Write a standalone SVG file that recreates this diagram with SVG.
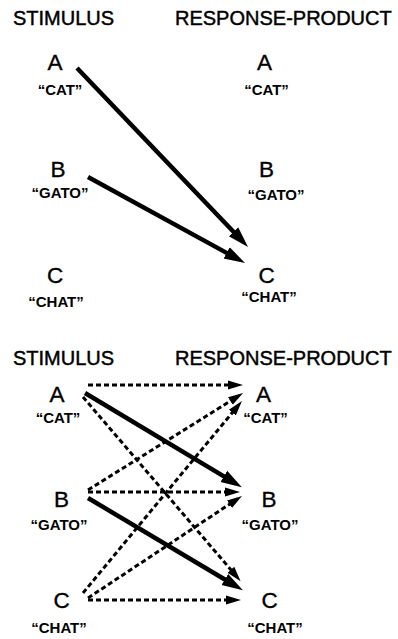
<svg xmlns="http://www.w3.org/2000/svg" width="398" height="639" viewBox="0 0 398 639">
  <style>
    text { font-family: "Liberation Sans", Arial, Helvetica, sans-serif; fill: #000; }
    .head { font-size: 20px; stroke: #000; stroke-width: 0.45; }
    .letter { font-size: 22.5px; text-anchor: middle; stroke: #000; stroke-width: 0.35; }
    .word { font-size: 15px; font-weight: bold; text-anchor: middle; }
    .solid { stroke: #000; stroke-width: 4.5; fill: none; }
    .dotted { stroke: #000; stroke-width: 3; stroke-dasharray: 5 3; fill: none; }
  </style>
  <defs>
    <marker id="headBig" markerUnits="userSpaceOnUse" markerWidth="24" markerHeight="16" refX="1" refY="8" orient="auto">
      <path d="M0,1.5 L21,8 L0,14.5 z" fill="#000"/>
    </marker>
    <marker id="headSmall" markerUnits="userSpaceOnUse" markerWidth="18" markerHeight="12" refX="1" refY="6" orient="auto">
      <path d="M0,1.5 L15,6 L0,10.5 z" fill="#000"/>
    </marker>
  </defs>

  <!-- upper panel -->
  <g id="top-headers">
    <text class="head" x="13" y="25">STIMULUS</text>
    <text class="head" x="175" y="25">RESPONSE-PRODUCT</text>
  </g>
  <g id="top-stim-a"><text class="letter" x="55" y="70">A</text><text class="word" x="60" y="95">“CAT”</text></g>
  <g id="top-stim-b"><text class="letter" x="58" y="177">B</text><text class="word" x="60" y="198">“GATO”</text></g>
  <g id="top-stim-c"><text class="letter" x="55" y="283">C</text><text class="word" x="56" y="307">“CHAT”</text></g>
  <g id="top-resp-a"><text class="letter" x="264.5" y="70">A</text><text class="word" x="266.5" y="95">“CAT”</text></g>
  <g id="top-resp-b"><text class="letter" x="266.5" y="177">B</text><text class="word" x="276" y="200">“GATO”</text></g>
  <g id="top-resp-c"><text class="letter" x="266.5" y="283">C</text><text class="word" x="269" y="302">“CHAT”</text></g>

  <g id="top-connectors">
    <line class="solid" x1="77" y1="68" x2="234.2" y2="232.5" marker-end="url(#headBig)"/>
    <line class="solid" x1="88" y1="177" x2="227.5" y2="253.4" marker-end="url(#headBig)"/>
  </g>

  <!-- lower panel -->
  <g id="bottom-headers">
    <text class="head" x="13" y="365">STIMULUS</text>
    <text class="head" x="175" y="365">RESPONSE-PRODUCT</text>
  </g>
  <g id="bot-stim-a"><text class="letter" x="57" y="402">A</text><text class="word" x="58" y="423">“CAT”</text></g>
  <g id="bot-stim-b"><text class="letter" x="61.5" y="507">B</text><text class="word" x="59" y="530">“GATO”</text></g>
  <g id="bot-stim-c"><text class="letter" x="61.5" y="608">C</text><text class="word" x="59" y="633">“CHAT”</text></g>
  <g id="bot-resp-a"><text class="letter" x="263.5" y="402">A</text><text class="word" x="265.5" y="423">“CAT”</text></g>
  <g id="bot-resp-b"><text class="letter" x="269" y="507">B</text><text class="word" x="270" y="530">“GATO”</text></g>
  <g id="bot-resp-c"><text class="letter" x="269.5" y="608">C</text><text class="word" x="275" y="633">“CHAT”</text></g>

  <g id="bottom-connectors">
    <!-- dotted associations -->
    <line class="dotted" x1="88" y1="385" x2="229" y2="385" marker-end="url(#headSmall)"/>
    <line class="dotted" x1="83" y1="397" x2="231.5" y2="570.5" marker-end="url(#headSmall)"/>
    <line class="dotted" x1="88" y1="490" x2="231.2" y2="400.5" marker-end="url(#headSmall)"/>
    <line class="dotted" x1="88" y1="492" x2="226" y2="492" marker-end="url(#headSmall)"/>
    <line class="dotted" x1="83" y1="593" x2="233" y2="411.8" marker-end="url(#headSmall)"/>
    <line class="dotted" x1="88" y1="598" x2="230.3" y2="503.7" marker-end="url(#headSmall)"/>
    <line class="dotted" x1="88" y1="600" x2="227" y2="600" marker-end="url(#headSmall)"/>
    <!-- solid associations -->
    <line class="solid" x1="85" y1="393" x2="224.7" y2="476.9" marker-end="url(#headBig)"/>
    <line class="solid" x1="88" y1="498" x2="225.7" y2="580" marker-end="url(#headBig)"/>
  </g>
</svg>
